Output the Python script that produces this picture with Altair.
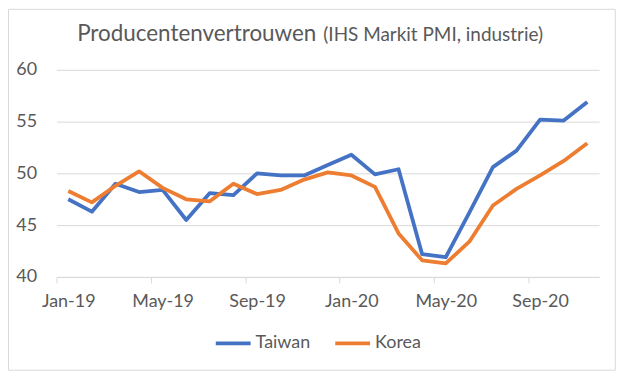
import altair as alt
import pandas as pd

months = ["Jan-19", "Feb-19", "Mar-19", "Apr-19", "May-19", "Jun-19", "Jul-19", "Aug-19",
          "Sep-19", "Oct-19", "Nov-19", "Dec-19", "Jan-20", "Feb-20", "Mar-20", "Apr-20",
          "May-20", "Jun-20", "Jul-20", "Aug-20", "Sep-20", "Oct-20", "Nov-20"]
taiwan = [47.5, 46.3, 49.0, 48.2, 48.4, 45.5, 48.1, 47.9, 50.0, 49.8, 49.8, 50.8,
          51.8, 49.9, 50.4, 42.2, 41.9, 46.2, 50.6, 52.2, 55.2, 55.1, 56.9]
korea = [48.3, 47.2, 48.8, 50.2, 48.6, 47.5, 47.3, 49.0, 48.0, 48.4, 49.4, 50.1,
         49.8, 48.7, 44.2, 41.6, 41.3, 43.4, 46.9, 48.5, 49.8, 51.2, 52.9]
series = ["Taiwan", "Korea"]
colors = ["#4472C4", "#ED7D31"]
title_main = "Producentenvertrouwen"
title_sub = "(IHS Markit PMI, industrie)"

rows = []
for name, vals in zip(series, [taiwan, korea]):
    for i, (m, v) in enumerate(zip(months, vals)):
        rows.append({"idx": i, "month": m, "value": v, "series": name})
df = pd.DataFrame(rows)

W, H = 545, 208
n = len(months)
half_band = W / n / 2
label_expr = "[" + ",".join("'%s'" % m for m in months) + "][datum.value]"
TXT = "#595959"
FONT = "Lato"

lines = alt.Chart(df).mark_line(strokeWidth=3.8, strokeJoin="round").encode(
    x=alt.X("idx:Q",
            scale=alt.Scale(domain=[-0.5, n - 0.5], nice=False, zero=False),
            axis=alt.Axis(values=list(range(0, n, 4)), labelExpr=label_expr, title=None,
                          grid=False, domain=True, domainColor="#d9d9d9", ticks=True,
                          tickColor="#d9d9d9", tickSize=6, tickOffset=-half_band,
                          labelOffset=half_band, labelPadding=10, labelFlush=False,
                          labelOverlap=False)),
    y=alt.Y("value:Q",
            scale=alt.Scale(domain=[40, 60], nice=False, zero=False),
            axis=alt.Axis(values=[40, 45, 50, 55, 60], title=None, domain=False,
                          ticks=False, tickSize=0, labelPadding=20, grid=True,
                          gridColor="#d9d9d9", gridWidth=1)),
    color=alt.Color("series:N",
                    scale=alt.Scale(domain=series, range=colors),
                    legend=alt.Legend(title=None, orient="none", legendX=158, legendY=255,
                                      direction="horizontal", symbolType="stroke",
                                      symbolSize=1225, symbolStrokeWidth=3.8,
                                      labelOffset=3, columnPadding=17, padding=0,
                                      labelFontSize=18, labelColor=TXT, labelFont=FONT)),
    order="idx:Q",
)

border = alt.Chart(alt.Data(values=[{}])).mark_rect(
    fill=None, stroke="#d9d9d9", strokeWidth=1).encode(
    x=alt.value(-48.2), x2=alt.value(561.3), y=alt.value(-60.8), y2=alt.value(301.7))

t1 = alt.Chart(alt.Data(values=[{"t": title_main}])).mark_text(
    align="right", baseline="alphabetic", fontSize=22.5, font=FONT, color=TXT).encode(
    x=alt.value(261), y=alt.value(-29.3), text="t:N")
t2 = alt.Chart(alt.Data(values=[{"t": title_sub}])).mark_text(
    align="left", baseline="alphabetic", fontSize=19, font=FONT, color=TXT).encode(
    x=alt.value(268), y=alt.value(-29.3), text="t:N")

chart = alt.layer(border, lines, t1, t2).properties(
    width=W, height=H,
    autosize=alt.AutoSizeParams(type="none"),
    padding={"left": 48.7, "top": 61.3, "right": 18, "bottom": 96},
).configure_view(stroke=None).configure_axis(
    labelFontSize=18, labelColor=TXT, labelFont=FONT
)

chart.save("out.html", embed_options={"renderer": "svg", "actions": False})
